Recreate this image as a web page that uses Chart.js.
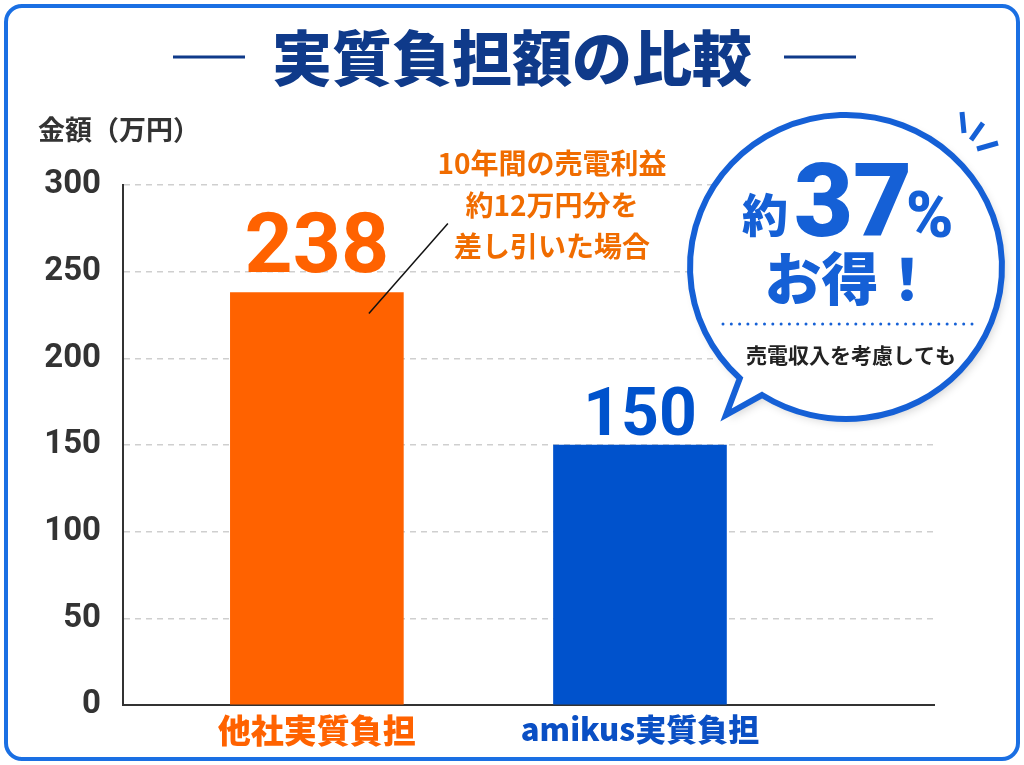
<!DOCTYPE html>
<html>
<head>
<meta charset="utf-8">
<script src="https://cdn.jsdelivr.net/npm/chart.js"></script>
<style>
  html, body { margin: 0; padding: 0; background: #ffffff; }
  #wrap { position: relative; width: 1024px; height: 765px; }
  canvas { display: block; }
</style>
</head>
<body>
<div id="wrap"><canvas id="c" width="1024" height="765"></canvas></div>
<script>
// ---- data ----
const categories = ['他社実質負担', 'amikus実質負担'];
const values = [238, 150];
const barColors = ['#FF6200', '#0052CC'];
const labelColors = ['#FF6200', '#0A4FC4'];
const yTickValues = [0, 50, 100, 150, 200, 250, 300];
const titleText = '実質負担額の比較';
const yAxisTitle = '金額（万円）';
const noteLines = ['10年間の売電利益', '約12万円分を', '差し引いた場合'];
const bubbleMain = ['約', '37', '%'];
const bubbleSub = 'お得！';
const bubbleNote = '売電収入を考慮しても';

const CJK = '"Noto Sans CJK JP", "Noto Sans", sans-serif';
const NUM = 'Roboto, "Noto Sans", sans-serif';
const BLUE = '#1560D6';
const NAVY = '#0F3A8A';

function rrect(ctx, x, y, w, h, r) {
  ctx.beginPath();
  ctx.moveTo(x + r, y);
  ctx.lineTo(x + w - r, y);
  ctx.arcTo(x + w, y, x + w, y + r, r);
  ctx.lineTo(x + w, y + h - r);
  ctx.arcTo(x + w, y + h, x + w - r, y + h, r);
  ctx.lineTo(x + r, y + h);
  ctx.arcTo(x, y + h, x, y + h - r, r);
  ctx.lineTo(x, y + r);
  ctx.arcTo(x, y, x + r, y, r);
  ctx.closePath();
}

const decor = {
  id: 'decor',
  beforeDraw(chart) {
    const ctx = chart.ctx;
    ctx.save();
    ctx.fillStyle = '#ffffff';
    ctx.fillRect(0, 0, chart.width, chart.height);
    rrect(ctx, 6, 6, 1012, 753, 16);
    ctx.lineWidth = 4;
    ctx.strokeStyle = '#1A6FE3';
    ctx.stroke();
    ctx.strokeStyle = NAVY;
    ctx.lineWidth = 3;
    ctx.beginPath();
    ctx.moveTo(173, 57); ctx.lineTo(245, 57);
    ctx.moveTo(784, 57); ctx.lineTo(856, 57);
    ctx.stroke();
    ctx.fillStyle = '#333333';
    ctx.font = '700 27px ' + CJK;
    ctx.textAlign = 'left';
    ctx.textBaseline = 'middle';
    ctx.fillText(yAxisTitle, 38, 130);
    ctx.restore();
  },
  afterDatasetsDraw(chart) {
    const ctx = chart.ctx;
    const meta = chart.getDatasetMeta(0);
    ctx.save();
    meta.data.forEach(function (bar, i) {
      const big = i === 0;
      ctx.fillStyle = barColors[i];
      ctx.font = '700 ' + (big ? 84 : 66) + 'px ' + NUM;
      ctx.textAlign = 'center';
      ctx.textBaseline = 'alphabetic';
      ctx.fillText(String(values[i]), bar.x, bar.y - (big ? 20 : 10));
    });
    const b0 = meta.data[0];
    ctx.strokeStyle = '#111111';
    ctx.lineWidth = 1.5;
    ctx.beginPath();
    ctx.moveTo(b0.x + 52, b0.y + 21);
    ctx.lineTo(b0.x + 131, b0.y - 69);
    ctx.stroke();
    ctx.fillStyle = '#F06C00';
    ctx.font = '700 28px ' + CJK;
    ctx.textAlign = 'center';
    ctx.textBaseline = 'middle';
    const ny = [163, 205, 246];
    noteLines.forEach(function (t, i) { ctx.fillText(t, 552, ny[i]); });

    const cx = 846, cy = 267, rx = 156, ry = 152;
    const a1 = 132.9 * Math.PI / 180, a2 = (122.6 + 360) * Math.PI / 180;
    ctx.save();
    ctx.beginPath();
    ctx.ellipse(cx, cy, rx, ry, 0, a1, a2, false);
    ctx.lineTo(726, 415);
    ctx.closePath();
    ctx.fillStyle = '#ffffff';
    ctx.shadowColor = 'rgba(0,0,0,0.18)';
    ctx.shadowBlur = 10;
    ctx.shadowOffsetX = 3;
    ctx.shadowOffsetY = 4;
    ctx.fill();
    ctx.restore();
    ctx.beginPath();
    ctx.ellipse(cx, cy, rx, ry, 0, a1, a2, false);
    ctx.lineTo(726, 415);
    ctx.closePath();
    ctx.lineJoin = 'miter';
    ctx.strokeStyle = BLUE;
    ctx.lineWidth = 6;
    ctx.stroke();
    ctx.lineWidth = 5;
    ctx.beginPath();
    ctx.moveTo(962, 112); ctx.lineTo(964, 133);
    ctx.moveTo(983, 123); ctx.lineTo(971, 140);
    ctx.moveTo(998, 143); ctx.lineTo(977, 149);
    ctx.stroke();
    ctx.fillStyle = BLUE;
    for (let k = 0; k < 31; k++) {
      ctx.beginPath();
      ctx.arc(723 + k * 8.3, 324, 1.5, 0, Math.PI * 2);
      ctx.fill();
    }
    ctx.textBaseline = 'alphabetic';
    ctx.textAlign = 'left';
    ctx.font = '900 46px ' + CJK;
    ctx.fillText(bubbleMain[0], 742, 232);
    ctx.font = '900 102px ' + NUM;
    ctx.fillText(bubbleMain[1], 794, 236);
    ctx.font = '900 64px ' + NUM;
    ctx.fillText(bubbleMain[2], 906, 237);
    ctx.textAlign = 'center';
    ctx.textBaseline = 'middle';
    ctx.font = '900 57px ' + CJK;
    ctx.fillText(bubbleSub, 850, 278);
    ctx.fillStyle = '#222222';
    ctx.font = '700 21px ' + CJK;
    ctx.fillText(bubbleNote, 851, 355);
    ctx.restore();
  }
};

new Chart(document.getElementById('c'), {
  type: 'bar',
  data: {
    labels: categories,
    datasets: [{
      data: values.map(function (v, i) { return { x: i, y: v }; }),
      backgroundColor: barColors,
      barThickness: 173,
      borderWidth: 0
    }]
  },
  options: {
    responsive: false,
    animation: false,
    devicePixelRatio: 1,
    layout: { padding: { left: 0, right: 0, top: 0, bottom: 0 } },
    plugins: {
      legend: { display: false },
      tooltip: { enabled: false },
      title: {
        display: true,
        text: titleText,
        color: NAVY,
        font: { family: CJK, size: 60, weight: '900', lineHeight: 1.2 },
        padding: { top: 22, bottom: 91 }
      }
    },
    scales: {
      x: {
        type: 'linear',
        min: -0.6,
        max: 1.91,
        offset: false,
        grid: { display: false },
        border: { display: true, color: '#333333', width: 2 },
        afterBuildTicks: function (s) { s.ticks = categories.map(function (_, i) { return { value: i }; }); },
        afterFit: function (s) { s.height = 60; },
        ticks: {
          autoSkip: false,
          maxRotation: 0,
          padding: -2,
          callback: function (v) { return categories[v] || ''; },
          color: function (c) { return labelColors[c.index] || '#333'; },
          font: function (c) { return { family: CJK, size: c.index === 1 ? 31 : 33, weight: '900' }; }
        }
      },
      y: {
        min: 0,
        max: 300,
        afterBuildTicks: function (s) { s.ticks = yTickValues.map(function (v) { return { value: v }; }); },
        afterFit: function (s) { s.width = 123; },
        grid: {
          color: function (c) { return (c.tick && c.tick.value === 0) ? 'rgba(0,0,0,0)' : '#CFCFCF'; },
          lineWidth: 1.5,
          drawTicks: false
        },
        border: { display: true, color: '#333333', width: 2, dash: [6, 5] },
        ticks: {
          padding: 22,
          color: '#333333',
          font: { family: NUM, size: 33, weight: '700' }
        }
      },
      yPad: {
        type: 'linear',
        position: 'right',
        display: true,
        min: 0,
        max: 1,
        grid: { drawOnChartArea: false, drawTicks: false },
        border: { display: false },
        ticks: { display: false },
        afterFit: function (s) { s.width = 90; }
      }
    }
  },
  plugins: [decor]
});
</script>
</body>
</html>
